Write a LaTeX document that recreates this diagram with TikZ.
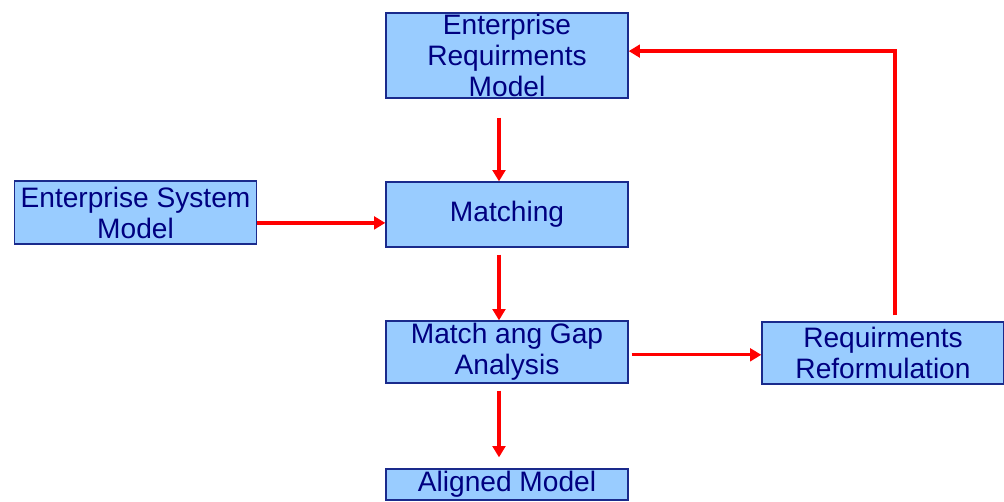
\documentclass[tikz,border=0pt]{standalone}
\usepackage{fontspec}
\setmainfont{Liberation Sans}
\usetikzlibrary{calc, arrows.meta}

\definecolor{boxfill}{HTML}{99CCFF}
\definecolor{boxline}{HTML}{1A2A8C}
\definecolor{boxtext}{HTML}{000080}

\tikzset{
  block/.style={draw=boxline, fill=boxfill, line width=0.9pt, text=boxtext,
    align=center, inner sep=0pt, minimum width=6.05cm,
    font=\fontsize{20}{22}\selectfont},
  flow/.style={draw=red, line width=2.3pt, -{Triangle[length=8pt,width=9pt]}}
}

\begin{document}
\begin{tikzpicture}[x=0.025cm, y=-0.025cm]
    \useasboundingbox (0,0) rectangle (1004,501);

    % the main column of boxes
    \node[block, minimum height=2.125cm] (erm) at (507,55.5) {Enterprise\\Requirments\\Model};
    \node[block, minimum height=1.625cm] (match) at (507,214.5) {Matching};
    \node[block, minimum height=1.55cm] (mga) at (507,352) {Match ang Gap\\Analysis};
    \node[block, minimum height=0.775cm] (aligned) at (507,484.5) {Aligned Model};

    % the boxes on the sides
    \node[block, minimum height=1.575cm] (esm) at (135.5,212.5) {Enterprise System\\Model};
    \node[block, minimum height=1.55cm] (reform) at (883,353) {Requirments\\Reformulation};

    % arrows down the column
    \draw[flow, shorten <=0.475cm] ([xshift=-0.2cm]erm.south) -- ([xshift=-0.2cm]match.north);
    \draw[flow, shorten <=0.175cm] ([xshift=-0.2cm]match.south) -- ([xshift=-0.2cm]mga.north);
    \draw[flow, shorten <=0.175cm, shorten >=0.275cm] ([xshift=-0.2cm]mga.south) -- ([xshift=-0.2cm]aligned.north);

    % arrows across
    \draw[flow] ([yshift=-0.26cm]esm.east) -- ([yshift=-0.26cm]esm.east -| match.west);
    \draw[flow, shorten <=0.075cm] ([yshift=-0.07cm]mga.east) -- ([yshift=-0.07cm]mga.east -| reform.west);

    % feedback back to the requirements
    \draw[flow, shorten <=0.15cm] ([xshift=0.3cm]reform.north) |- ([yshift=0.11cm]erm.east);

\end{tikzpicture}
\end{document}
